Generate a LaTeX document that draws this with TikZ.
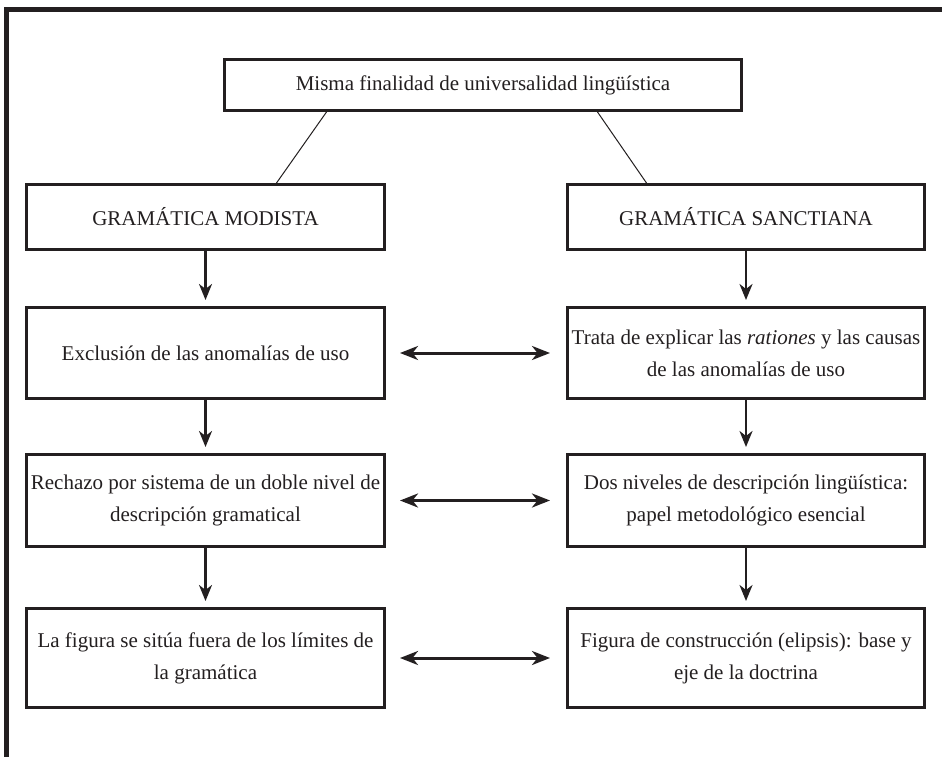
\documentclass[tikz,border=0pt]{standalone}
\usepackage{fontspec}
\setmainfont{Liberation Serif}
\usetikzlibrary{arrows.meta,calc}
\definecolor{ink}{HTML}{231F20}
\begin{document}
\begin{tikzpicture}[x=1pt,y=-1pt,
  box/.style={draw=ink,line width=3pt,rectangle,inner sep=2pt,align=center,text=ink,
    font=\fontsize{21}{32}\selectfont},
  lbox/.style={box,minimum width=358pt},
  rbox/.style={box,minimum width=357pt},
  thin/.style={draw=ink,line width=1pt},
  down/.style={draw=ink,line width=2.4pt,-{Stealth[length=16pt,width=13pt,inset=5pt]},shorten >=6pt},
  both/.style={draw=ink,line width=3pt,{Stealth[length=18pt,width=14pt,inset=5.5pt]}-{Stealth[length=18pt,width=14pt,inset=5.5pt]},shorten <=14pt,shorten >=16pt}
]
\useasboundingbox (0,0) rectangle (942,757);
\fill[white] (0,0) rectangle (942,757);
\draw[ink,line width=5pt] (6.5,757) -- (6.5,9.5) -- (942,9.5);

\node[box,minimum width=517pt,minimum height=51pt] (top) at (483,85) {Misma finalidad de universalidad lingüística};

\node[lbox,minimum height=65pt] (gm) at (205.5,217) {GRAMÁTICA MODISTA};
\node[rbox,minimum height=65pt] (gs) at (746,217) {GRAMÁTICA SANCTIANA};

\node[lbox,minimum height=91pt] (ex) at (205.5,353) {Exclusión de las anomalías de uso};
\node[rbox,minimum height=91pt] (tr) at (746,353) {Trata de explicar las \textit{rationes} y las causas\\de las anomalías de uso};

\node[lbox,minimum height=92pt] (re) at (205.5,500.5) {Rechazo por sistema de un doble nivel de\\descripción gramatical};
\node[rbox,minimum height=92pt] (dn) at (746,500.5) {Dos niveles de descripción lingüística:\\papel metodológico esencial};

\node[lbox,minimum height=99pt] (fi) at (205.5,658) {La figura se sitúa fuera de los límites de\\la gramática};
\node[rbox,minimum height=99pt] (fc) at (746,658) {Figura de construcción (elipsis): base y\\eje de la doctrina};

\draw[thin] ($(top.south west)+(103.5,0)$) -- ($(gm.north west)+(251.5,0)$);
\draw[thin] ($(top.south west)+(374.5,0)$) -- ($(gs.north west)+(80.5,0)$);

\draw[down] (gm.south) -- (ex.north);
\draw[down] (ex.south) -- (re.north);
\draw[down] (re.south) -- (fi.north);
\draw[down] (gs.south) -- (tr.north);
\draw[down] (tr.south) -- (dn.north);
\draw[down] (dn.south) -- (fc.north);

\draw[both] (ex.east) -- (tr.west);
\draw[both] (re.east) -- (dn.west);
\draw[both] (fi.east) -- (fc.west);
\end{tikzpicture}
\end{document}
